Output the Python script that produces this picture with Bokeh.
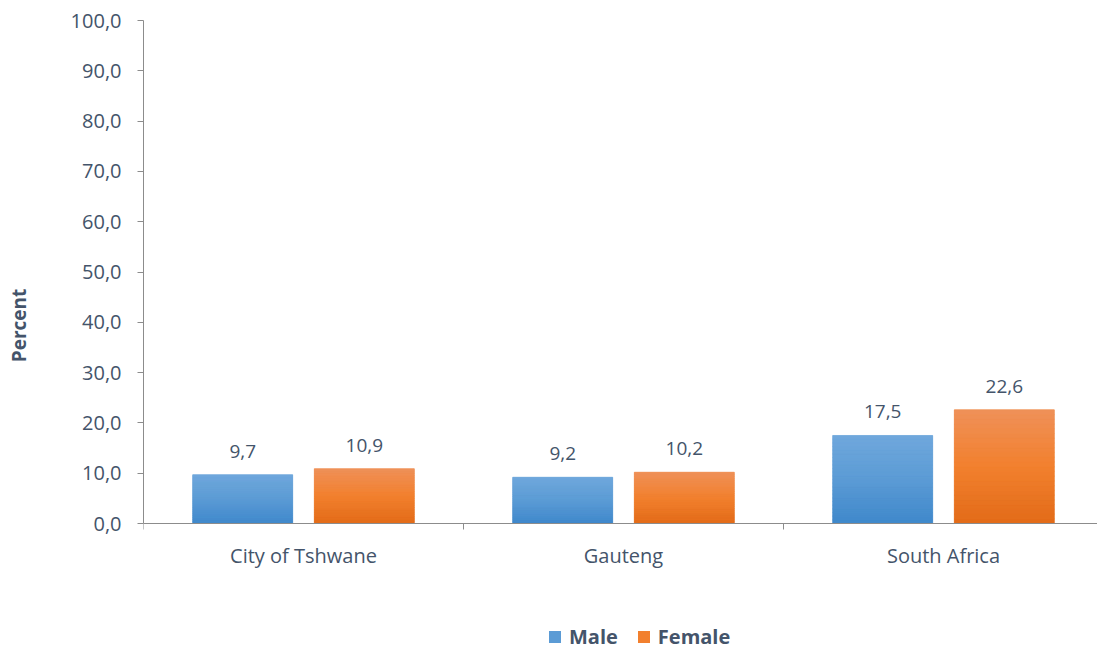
from bokeh.plotting import figure
from bokeh.models import (Range1d, FixedTicker, ColumnDataSource, Legend, LegendItem,
                          LinearAxis)
from bokeh.core.properties import value
from bokeh.embed import file_html
from bokeh.resources import INLINE

categories = ["City of Tshwane", "Gauteng", "South Africa"]
male = [9.7, 9.2, 17.5]
female = [10.9, 10.2, 22.6]
y_ticks = [0, 10, 20, 30, 40, 50, 60, 70, 80, 90, 100]

FONT = "Open Sans"
TXT = "#44546A"
AX = "#8C8C8C"
# gradient stops (bottom, middle, top)
BLUE = ["#3F88CB", "#5B9BD5", "#70A8DC"]
ORANGE = ["#E26B18", "#F2802E", "#EF9159"]

W, H = 1097, 650
LEFT, TOP, ZERO_Y, FRAME_T = 143, 20, 523, 0   # pixel layout of the plotting area
CAT_W = 320                                     # pixel width of one category
N_SLICES = 24

def fmt(v):
    return f"{v:.1f}".replace(".", ",")

def hex2rgb(h):
    return [int(h[i:i + 2], 16) for i in (1, 3, 5)]

def grad(stops, t):
    a, m, b = [hex2rgb(s) for s in stops]
    if t < 0.5:
        c0, c1, u = a, m, t / 0.5
    else:
        c0, c1, u = m, b, (t - 0.5) / 0.5
    return "#%02x%02x%02x" % tuple(round(c0[k] + (c1[k] - c0[k]) * u) for k in range(3))

idx = list(range(len(categories)))
off = 0.19
bw = 0.3125
src_m = ColumnDataSource(dict(x=[i + 0.5 - off for i in idx], y=male,
                              lab=[fmt(v) for v in male]))
src_f = ColumnDataSource(dict(x=[i + 0.5 + off for i in idx], y=female,
                              lab=[fmt(v) for v in female]))

def slices(src, stops):
    xs, bots, tops, cols = [], [], [], []
    for x, v in zip(src.data["x"], src.data["y"]):
        for k in range(N_SLICES):
            xs.append(x)
            bots.append(v * k / N_SLICES)
            tops.append(v * (k + 1) / N_SLICES)
            cols.append(grad(stops, (k + 0.5) / N_SLICES))
    return ColumnDataSource(dict(x=xs, bottom=bots, top=tops, color=cols))

ymax = y_ticks[-1]
ppu = (ZERO_Y - TOP) / ymax
y_lo = -(H - ZERO_Y) / ppu
y_hi = ymax + (TOP - FRAME_T) / ppu

p = figure(width=W, height=H, output_backend="svg", toolbar_location=None,
           x_range=Range1d(0, (W - LEFT) / CAT_W), y_range=Range1d(y_lo, y_hi),
           min_border_left=LEFT, min_border_right=0, min_border_top=FRAME_T,
           min_border_bottom=0, x_axis_type=None, y_axis_type=None)
p.outline_line_color = None
p.grid.visible = False
p.background_fill_color = "white"
p.border_fill_color = "white"

# y axis
ya = LinearAxis(ticker=FixedTicker(ticks=y_ticks, minor_ticks=[]), bounds=(0, ymax))
ya.major_label_overrides = {t: fmt(t) for t in y_ticks}
ya.axis_line_color = AX
ya.major_tick_line_color = AX
ya.major_tick_in = 0
ya.major_tick_out = 6
ya.major_label_standoff = 16
ya.major_label_text_font = FONT
ya.major_label_text_font_size = "20px"
ya.major_label_text_color = TXT
ya.axis_label = "Percent"
ya.axis_label_text_font = FONT
ya.axis_label_text_font_style = "bold"
ya.axis_label_text_font_size = "19px"
ya.axis_label_text_color = TXT
ya.axis_label_standoff = 36
p.add_layout(ya, "left")

# x axis (fixed at y = 0)
centers = [i + 0.5 for i in idx]
xa = LinearAxis(ticker=FixedTicker(ticks=centers,
                                   minor_ticks=list(range(len(categories) + 1))),
                fixed_location=0)
xa.major_label_overrides = {c: n for c, n in zip(centers, categories)}
xa.axis_line_color = AX
xa.major_tick_line_color = None
xa.major_tick_in = 0
xa.major_tick_out = 0
xa.minor_tick_line_color = AX
xa.minor_tick_in = 0
xa.minor_tick_out = 6
xa.major_label_standoff = 12
xa.major_label_text_font = FONT
xa.major_label_text_font_size = "20px"
xa.major_label_text_color = TXT
p.add_layout(xa, "below")

rm = p.vbar(x="x", top="y", width=bw, bottom=0, source=src_m,
            fill_color=BLUE[1], line_color=None)
rf = p.vbar(x="x", top="y", width=bw, bottom=0, source=src_f,
            fill_color=ORANGE[1], line_color=None)
for s, stops in ((src_m, BLUE), (src_f, ORANGE)):
    p.vbar(x="x", top="top", bottom="bottom", width=bw, source=slices(s, stops),
           fill_color="color", line_color="color", line_width=0.6)

for s in (src_m, src_f):
    p.text(x="x", y="y", text="lab", source=s, text_align="center",
           text_baseline="bottom", y_offset=-17, text_font=value(FONT),
           text_font_size="19px", text_color=TXT)

legend = Legend(items=[LegendItem(label="Male", renderers=[rm]),
                       LegendItem(label="Female", renderers=[rf])],
                orientation="horizontal", location=(404, 0),
                glyph_width=15, glyph_height=15, spacing=18, padding=0, margin=0,
                label_text_font=FONT, label_text_font_style="bold",
                label_text_font_size="20px", label_text_color=TXT,
                label_standoff=7, border_line_color=None,
                background_fill_alpha=0)
p.add_layout(legend, "center")

open("out.html", "w").write(file_html(p, INLINE))
